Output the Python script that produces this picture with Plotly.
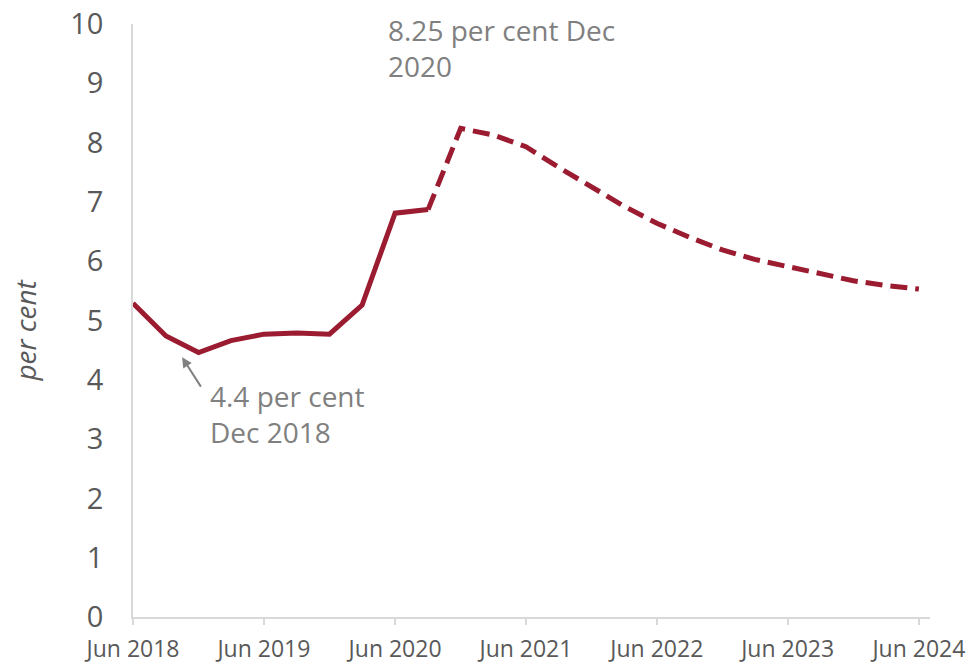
import plotly.graph_objects as go

# Quarterly dates
actual_dates = ["2018-06-01", "2018-09-01", "2018-12-01", "2019-03-01", "2019-06-01",
                "2019-09-01", "2019-12-01", "2020-03-01", "2020-06-01", "2020-09-01"]
actual_values = [5.29, 4.74, 4.46, 4.66, 4.77, 4.79, 4.77, 5.26, 6.81, 6.87]

forecast_dates = ["2020-09-01", "2020-12-01", "2021-03-01", "2021-06-01", "2021-09-01",
                  "2021-12-01", "2022-03-01", "2022-06-01", "2022-09-01", "2022-12-01",
                  "2023-03-01", "2023-06-01", "2023-09-01", "2023-12-01", "2024-03-01",
                  "2024-06-01"]
forecast_values = [6.87, 8.24, 8.13, 7.93, 7.58, 7.25, 6.93, 6.64, 6.40, 6.19,
                   6.03, 5.91, 5.78, 5.67, 5.59, 5.53]

tick_vals = ["2018-06-01", "2019-06-01", "2020-06-01", "2021-06-01",
             "2022-06-01", "2023-06-01", "2024-06-01"]
tick_text = ["Jun 2018", "Jun 2019", "Jun 2020", "Jun 2021",
             "Jun 2022", "Jun 2023", "Jun 2024"]

LINE = "#9B1B30"
GREY_TXT = "#808080"
TICK_TXT = "#595959"
AXIS = "#D9D9D9"

fig = go.Figure()
fig.add_trace(go.Scatter(x=actual_dates, y=actual_values, mode="lines",
                         line=dict(color=LINE, width=5), showlegend=False,
                         hoverinfo="skip"))
fig.add_trace(go.Scatter(x=forecast_dates, y=forecast_values, mode="lines",
                         line=dict(color=LINE, width=5, dash="17px,8px"),
                         showlegend=False, hoverinfo="skip"))

fig.add_annotation(x="2020-05-07", y=1.025, xref="x", yref="paper",
                   text="8.25 per cent Dec<br>2020", showarrow=False,
                   xanchor="left", yanchor="top", align="left",
                   font=dict(family="Open Sans", size=28, color=GREY_TXT))
fig.add_annotation(x="2018-12-26", y=4.08, xref="x", yref="y",
                   text="4.4 per cent<br>Dec 2018", showarrow=False,
                   xanchor="left", yanchor="top", align="left",
                   font=dict(family="Open Sans", size=28, color=GREY_TXT))
fig.add_annotation(x="2018-10-16", y=4.38, ax="2018-12-10", ay=3.86,
                   xref="x", yref="y", axref="x", ayref="y",
                   text="", showarrow=True, arrowhead=2, arrowsize=1,
                   arrowwidth=2, arrowcolor=GREY_TXT)
# y-axis title
fig.add_annotation(x=-0.136, y=0.484, xref="paper", yref="paper",
                   text="<i>per cent</i>", showarrow=False, textangle=-90,
                   xanchor="center", yanchor="middle",
                   font=dict(family="Open Sans", size=28, color=TICK_TXT))

fig.update_layout(
    width=976, height=663,
    margin=dict(l=133, r=46, t=24, b=46),
    paper_bgcolor="white", plot_bgcolor="white",
    xaxis=dict(type="date", range=["2018-06-01", "2024-07-02"],
               tickvals=tick_vals, ticktext=tick_text, automargin=False,
               showgrid=False, zeroline=False,
               showline=True, linecolor=AXIS, linewidth=1.5,
               ticks="outside", ticklen=6, tickcolor=AXIS, tickwidth=1.5,
               ticklabelstandoff=5,
               tickfont=dict(family="Open Sans", size=23, color=TICK_TXT)),
    yaxis=dict(range=[0, 10], tickvals=list(range(0, 11)), automargin=False,
               showgrid=False, zeroline=False,
               showline=True, linecolor=AXIS, linewidth=1.5,
               ticks="", ticklabelstandoff=22,
               tickfont=dict(family="Open Sans", size=29, color=TICK_TXT)),
)

fig.write_html("out.html", config={"displayModeBar": False},
               post_script="document.body.style.margin='0';")
